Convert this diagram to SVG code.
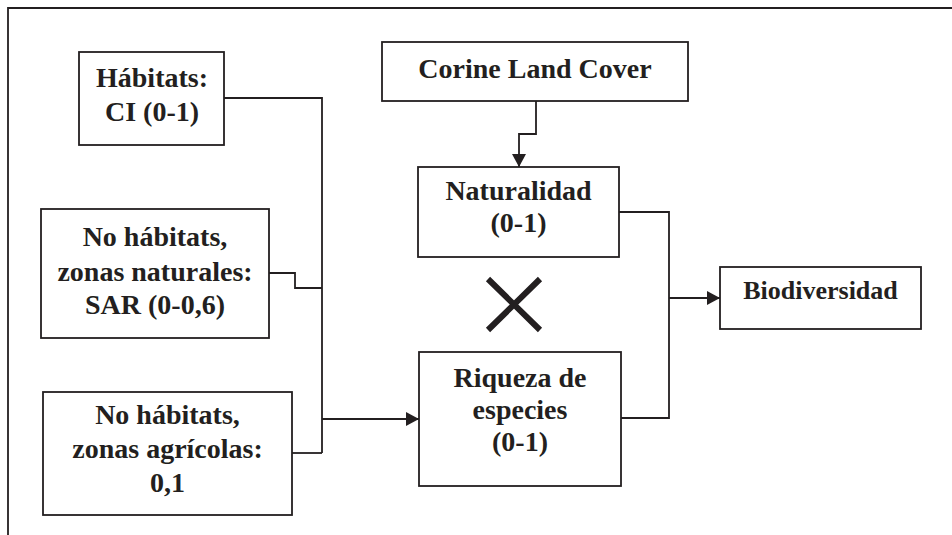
<svg xmlns="http://www.w3.org/2000/svg" width="952" height="535" viewBox="0 0 952 535">
<style>
.box{fill:#fff;stroke:#231f20;stroke-width:1.8}
.t{font-family:"Liberation Serif","Times New Roman",serif;font-weight:bold;font-size:28px;fill:#231f20;text-anchor:middle}
.c{fill:none;stroke:#231f20;stroke-width:1.8}
</style>
<defs>
<marker id="ah" markerUnits="userSpaceOnUse" markerWidth="14" markerHeight="14" refX="13" refY="7" orient="auto">
<path d="M0,0 L13,7 L0,14 z" fill="#231f20"/>
</marker>
</defs>
<rect width="952" height="535" fill="#fff"/>
<g id="frame"><path class="c" d="M8,535 V8 H952"/></g>
<g id="connectors">
<path class="c" d="M224,98 H322 V453"/>
<path class="c" d="M269,273 H295 V288 H322"/>
<path class="c" d="M292,453 H322"/>
<path class="c" d="M322,419 H419" marker-end="url(#ah)"/>
<path class="c" d="M536,101 V134 H519 V167" marker-end="url(#ah)"/>
<path class="c" d="M619,212 H669 V418 H621"/>
<path class="c" d="M669,298 H720" marker-end="url(#ah)"/>
</g>
<g id="habitats">
<rect class="box" x="79" y="52" width="145" height="93"/>
<text class="t" x="152" y="87">Hábitats:</text>
<text class="t" x="152" y="121">CI (0-1)</text>
</g>
<g id="naturales">
<rect class="box" x="41" y="209" width="228" height="129"/>
<text class="t" x="155" y="246">No hábitats,</text>
<text class="t" x="155" y="281">zonas naturales:</text>
<text class="t" x="155" y="314">SAR (0-0,6)</text>
</g>
<g id="agricolas">
<rect class="box" x="43" y="392" width="249" height="123"/>
<text class="t" x="167.5" y="424">No hábitats,</text>
<text class="t" x="167.5" y="458">zonas agrícolas:</text>
<text class="t" x="167.5" y="492">0,1</text>
</g>
<g id="corine">
<rect class="box" x="382" y="42" width="306" height="59"/>
<text class="t" x="535" y="78">Corine Land Cover</text>
</g>
<g id="naturalidad">
<rect class="box" x="418" y="167" width="201" height="90"/>
<text class="t" x="518.5" y="200">Naturalidad</text>
<text class="t" x="518.5" y="232">(0-1)</text>
</g>
<g id="multiply">
<path d="M488,279 L540,330 M540,279 L488,330" stroke="#231f20" stroke-width="6" fill="none"/>
</g>
<g id="riqueza">
<rect class="box" x="419" y="352" width="202" height="134"/>
<text class="t" x="520" y="387">Riqueza de</text>
<text class="t" x="520" y="419">especies</text>
<text class="t" x="520" y="451">(0-1)</text>
</g>
<g id="biodiversidad">
<rect class="box" x="720" y="267" width="201" height="62"/>
<text class="t" x="820.5" y="299" style="font-size:26px">Biodiversidad</text>
</g>
</svg>
